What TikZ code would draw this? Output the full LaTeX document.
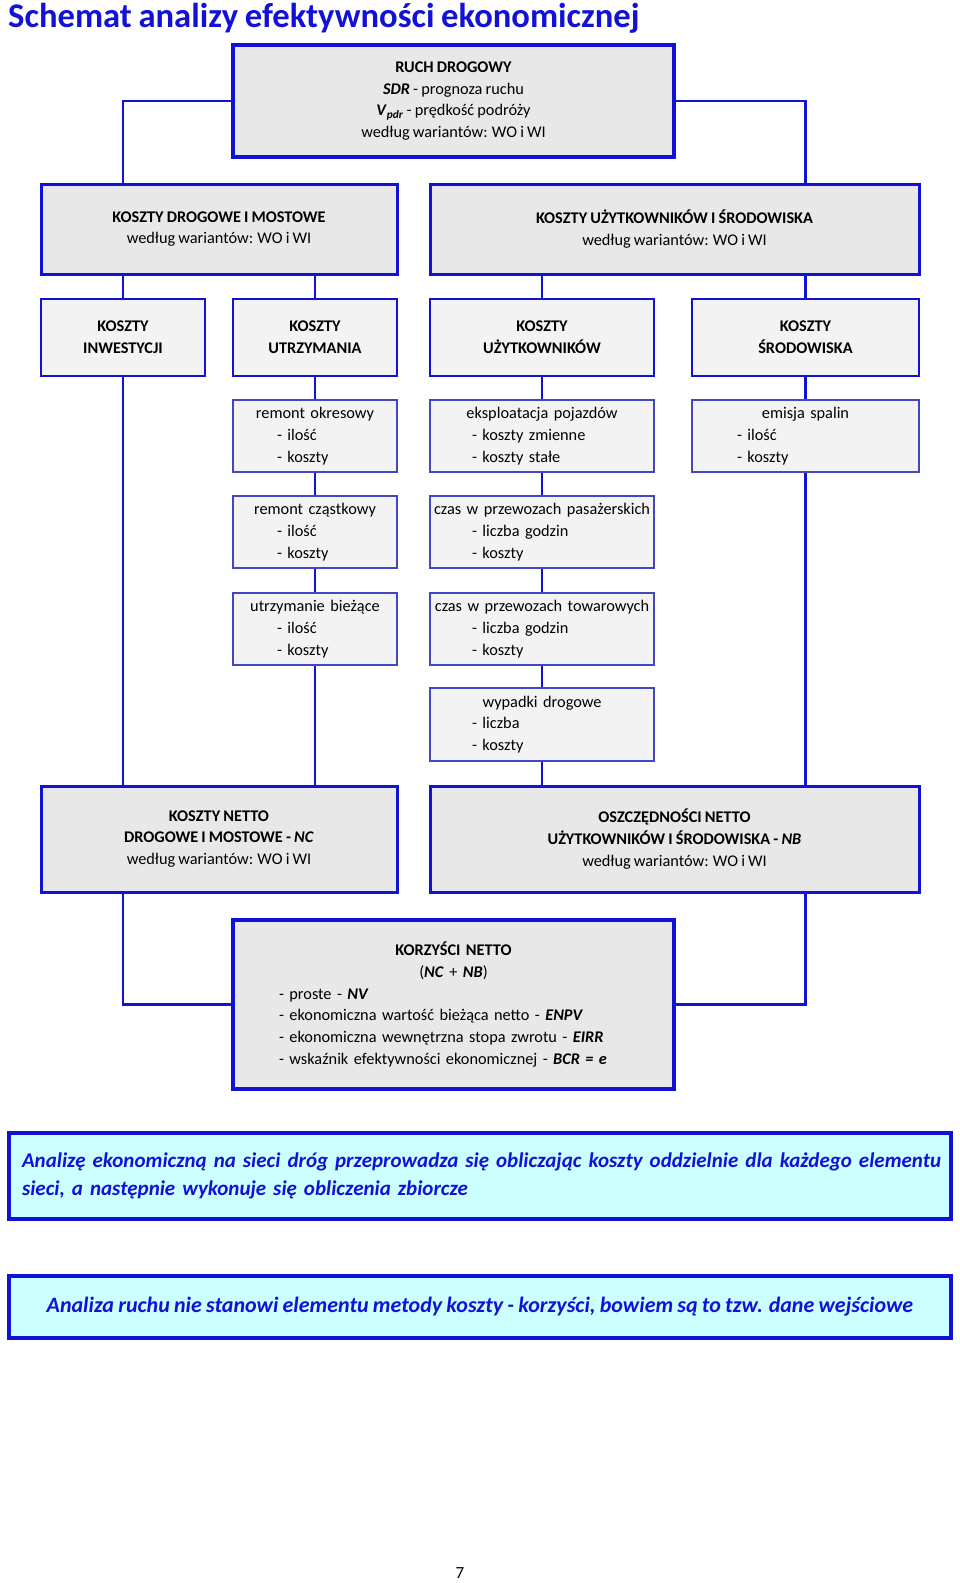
\documentclass[tikz,border=0pt]{standalone}
\usepackage{fontspec}
\setmainfont{Carlito}[WordSpace=0.85]
\usepackage{tikz}

\definecolor{niebieski}{RGB}{18,18,215}
\definecolor{ramka}{RGB}{70,70,190}
\definecolor{szary}{RGB}{232,232,232}
\definecolor{jasny}{RGB}{243,243,243}
\definecolor{cyjan}{RGB}{204,255,255}

% naglowek w podpunktach: wysrodkowany, reszta od wciecia
\newcommand{\hdr}[1]{\leavevmode\null\hfill\mbox{#1}\hfill\null}
\newcommand{\pkt}[2]{\\\hspace*{#1pt}- #2}

\begin{document}
\begin{tikzpicture}[x=1pt, y=-1pt,
		tekst/.style={font=\fontsize{16.3}{21.7}\selectfont, inner sep=0pt, align=center},
		gruby/.style={tekst, draw=niebieski, line width=4pt, fill=szary},
		glowny/.style={tekst, draw=niebieski, line width=3pt, fill=szary},
		kat/.style={tekst, draw=niebieski, line width=2pt, fill=jasny},
		pod/.style={tekst, draw=ramka, line width=1.2pt, fill=jasny, align=left, text width=#1, minimum width=#1},
		uwaga/.style={draw=niebieski, line width=4pt, fill=cyjan, text=niebieski, inner sep=0pt, minimum width=942pt},
		linia/.style={draw=niebieski, line width=2.5pt}]
	\useasboundingbox (0,0) rectangle (960,1583);

	\node[anchor=west, text=niebieski, font=\fontsize{34.6}{38}\selectfont\bfseries, inner sep=0pt] (tytul) at (8,18) {Schemat analizy efektywności ekonomicznej};

	\node[gruby, minimum width=441pt, minimum height=112pt] (ruch) at (453.5,101) {\textbf{RUCH DROGOWY}\\
		\textbf{\textit{SDR}} - prognoza ruchu\\
		\textbf{\textit{V}}\textsubscript{\textbf{\textit{pdr}}} - prędkość podróży\\
		według wariantów: WO i WI};

	\node[glowny, minimum width=356pt, minimum height=90pt] (kdm) at (219,229) {\textbf{KOSZTY DROGOWE I MOSTOWE}\\według wariantów: WO i WI};
	\node[glowny, minimum width=489pt, minimum height=90pt] (kus) at (674.5,229) {\textbf{KOSZTY UŻYTKOWNIKÓW I ŚRODOWISKA}\\według wariantów: WO i WI};

	\node[kat, minimum width=164pt, minimum height=77pt] (ki) at (123,337.5) {\textbf{KOSZTY}\\\textbf{INWESTYCJI}};
	\node[kat, minimum width=164pt, minimum height=77pt] (ku) at (315,337.5) {\textbf{KOSZTY}\\\textbf{UTRZYMANIA}};
	\node[kat, minimum width=224pt, minimum height=77pt] (kuz) at (542,337.5) {\textbf{KOSZTY}\\\textbf{UŻYTKOWNIKÓW}};
	\node[kat, minimum width=227pt, minimum height=77pt] (ksr) at (805.5,337.5) {\textbf{KOSZTY}\\\textbf{ŚRODOWISKA}};

	\node[pod=164pt, minimum height=72pt] (rok) at (315,436) {\hdr{remont okresowy}\pkt{44}{ilość}\pkt{44}{koszty}};
	\node[pod=164pt, minimum height=72pt] (rcz) at (315,532) {\hdr{remont cząstkowy}\pkt{44}{ilość}\pkt{44}{koszty}};
	\node[pod=164pt, minimum height=72pt] (ub) at (315,629) {\hdr{utrzymanie bieżące}\pkt{44}{ilość}\pkt{44}{koszty}};

	\node[pod=224pt, minimum height=72pt] (eks) at (542,436) {\hdr{eksploatacja pojazdów}\pkt{42}{koszty zmienne}\pkt{42}{koszty stałe}};
	\node[pod=224pt, minimum height=72pt] (czp) at (542,532) {\hdr{czas w przewozach pasażerskich}\pkt{42}{liczba godzin}\pkt{42}{koszty}};
	\node[pod=224pt, minimum height=72pt] (czt) at (542,629) {\hdr{czas w przewozach towarowych}\pkt{42}{liczba godzin}\pkt{42}{koszty}};
	\node[pod=224pt, minimum height=73pt] (wyp) at (542,724.5) {\hdr{wypadki drogowe}\pkt{42}{liczba}\pkt{42}{koszty}};

	\node[pod=227pt, minimum height=72pt] (emi) at (805.5,436) {\hdr{emisja spalin}\pkt{45}{ilość}\pkt{45}{koszty}};

	\node[glowny, minimum width=356pt, minimum height=106pt] (kn) at (219,839) {\textbf{KOSZTY NETTO}\\\textbf{DROGOWE I MOSTOWE - \textit{NC}}\\według wariantów: WO i WI};
	\node[glowny, minimum width=489pt, minimum height=106pt] (on) at (674.5,839) {\textbf{OSZCZĘDNOŚCI NETTO}\\\textbf{UŻYTKOWNIKÓW I ŚRODOWISKA - \textit{NB}}\\według wariantów: WO i WI};

	\node[gruby, align=left, text width=441pt, minimum width=441pt, minimum height=169pt] (korz) at (453.5,1004.5) {\hdr{\textbf{KORZYŚCI NETTO}}\\\hdr{(\textbf{\textit{NC}} + \textbf{\textit{NB}})}\pkt{46}{proste - \textbf{\textit{NV}}}\pkt{46}{ekonomiczna wartość bieżąca netto - \textbf{\textit{ENPV}}}\pkt{46}{ekonomiczna wewnętrzna stopa zwrotu - \textbf{\textit{EIRR}}}\pkt{46}{wskaźnik efektywności ekonomicznej - \textbf{\textit{BCR = e}}}};

	\node[uwaga, align=left, text width=916pt, minimum height=86pt, font=\fontsize{21}{28.3}\selectfont\bfseries\itshape] (uw1) at (480,1176) {\makebox[916pt][s]{Analizę ekonomiczną na sieci dróg przeprowadza się obliczając koszty oddzielnie dla każdego elementu}\\sieci, a następnie wykonuje się obliczenia zbiorcze};
	\node[uwaga, align=center, minimum height=62pt, font=\fontsize{22}{26}\selectfont\bfseries\itshape] (uw2) at (480,1307) {Analiza ruchu nie stanowi elementu metody koszty - korzyści, bowiem są to tzw. dane wejściowe};

	\node[font=\fontsize{17}{20}\selectfont, inner sep=0pt] (strona) at (460,1573) {7};

	% polaczenia
	\draw[linia] (ruch.west) -| (ki.north |- kdm.north);
	\draw[linia] (ruch.east) -| (ksr.north |- kus.north);
	\draw[linia] (ki |- kdm.south) -- (ki.north);
	\draw[linia] (ku |- kdm.south) -- (ku.north);
	\draw[linia] (kuz |- kus.south) -- (kuz.north);
	\draw[linia] (ksr |- kus.south) -- (ksr.north);
	\draw[linia] (ki.south) -- (ki |- kn.north);
	\draw[linia] (ku.south) -- (rok.north);
	\draw[linia] (rok.south) -- (rcz.north);
	\draw[linia] (rcz.south) -- (ub.north);
	\draw[linia] (ub.south) -- (ub |- kn.north);
	\draw[linia] (kuz.south) -- (eks.north);
	\draw[linia] (eks.south) -- (czp.north);
	\draw[linia] (czp.south) -- (czt.north);
	\draw[linia] (czt.south) -- (wyp.north);
	\draw[linia] (wyp.south) -- (wyp |- on.north);
	\draw[linia] (ksr.south) -- (emi.north);
	\draw[linia] (emi.south) -- (emi |- on.north);
	\draw[linia] (ki |- kn.south) |- (korz.west);
	\draw[linia] (ksr |- on.south) |- (korz.east);
\end{tikzpicture}
\end{document}
